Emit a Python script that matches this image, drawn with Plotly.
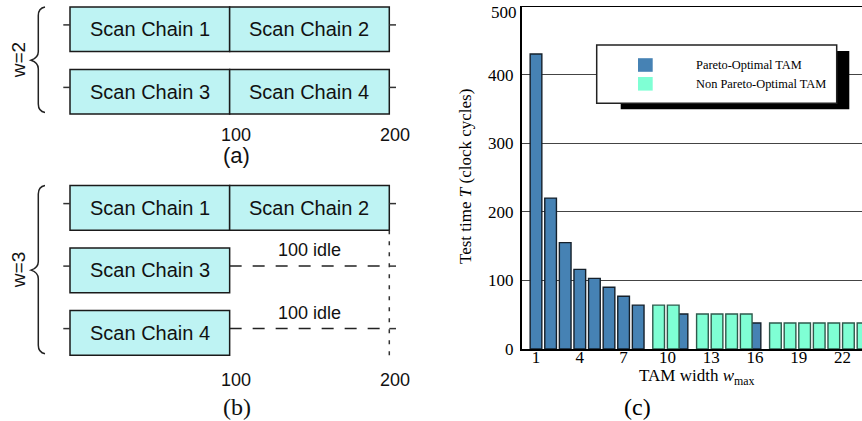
import plotly.graph_objects as go

# ---------------------------------------------------------------------------
# Data
# ---------------------------------------------------------------------------
# Scan chains of the example core and their lengths (clock cycles)
chain_names = ["Scan Chain 1", "Scan Chain 2", "Scan Chain 3", "Scan Chain 4"]
chain_lengths = [100, 100, 100, 100]
# TAM wire each scan chain is assigned to, for w=2 and w=3
wires_w2 = [0, 0, 1, 1]
wires_w3 = [0, 0, 1, 2]
schedule_ticks = [100, 200]

# Test time versus TAM width
pareto_width = [1, 2, 3, 4, 5, 6, 7, 8, 11, 16]
pareto_time = [430, 220, 155, 116, 103, 90, 77, 64, 51, 38]
nonpareto_width = [9, 10, 12, 13, 14, 15, 17, 18, 19, 20, 21, 22, 23]
nonpareto_time = [64, 64, 51, 51, 51, 51, 38, 38, 38, 38, 38, 38, 38]
width_ticks = [1, 4, 7, 10, 13, 16, 19, 22]
time_ticks = [0, 100, 200, 300, 400, 500]

# ---------------------------------------------------------------------------
# Layout constants
# ---------------------------------------------------------------------------
W, H = 862, 421
SANS = "Liberation Sans"
SERIF = "Liberation Serif"
BLUE = "#4682B4"
GREEN = "#7FFFD4"
CYAN = "#BEF3F3"
INK = "#1a1a1a"

# left schedule panel: cycle 0 sits at x=70 px, 1 cycle = 1.5965 px
PPC = 1.5965
X0 = 70.0
LEFT_W = 440.0
ROW_PITCH = 62.5
BOX_HALF = 22.3
TICK_UP = 4.3           # wire line sits a little above the box centre
STUB = 4.2              # length of wire stubs (cycles)


def px(v):
    return v / W


def py(v):
    return 1 - v / H


def cyc(xpx):
    return (xpx - X0) / PPC


fig = go.Figure()

# ---------------------------------------------------------------------------
# Bar chart (c)
# ---------------------------------------------------------------------------
fig.add_trace(go.Bar(
    x=pareto_width, y=pareto_time, width=0.8,
    marker=dict(color=BLUE, line=dict(color="#15202b", width=1.4)),
    name="Pareto-Optimal TAM", xaxis="x", yaxis="y",
))
fig.add_trace(go.Bar(
    x=nonpareto_width, y=nonpareto_time, width=0.8, offset=0,
    marker=dict(color=GREEN, line=dict(color="#2f5a4c", width=1.4)),
    name="Non Pareto-Optimal TAM", xaxis="x", yaxis="y",
))

shapes = []
annotations = []

# top frame line of the bar chart
shapes.append(dict(type="line", xref="x domain", yref="y", x0=0, x1=1,
                   y0=time_ticks[-1], y1=time_ticks[-1],
                   line=dict(color="black", width=2), layer="above"))
# the topmost tick label sits just inside the frame
annotations.append(dict(xref="paper", yref="y", x=px(518.5), y=time_ticks[-1], yshift=-6.5,
                        xanchor="right", yanchor="middle", showarrow=False,
                        text=str(time_ticks[-1]), font=dict(family=SERIF, size=17, color="black")))

# legend with drop shadow
lx0, lx1, ly0, ly1 = 596.7, 836.7, 45.0, 103.3
shapes.append(dict(type="rect", xref="paper", yref="paper",
                   x0=px(lx0 + 24), x1=px(lx1 + 12.6), y0=py(ly0 + 6), y1=py(ly1 + 6),
                   fillcolor="black", line=dict(width=0), layer="above"))
shapes.append(dict(type="rect", xref="paper", yref="paper",
                   x0=px(lx0), x1=px(lx1), y0=py(ly0), y1=py(ly1),
                   fillcolor="white", line=dict(color="#222", width=1.5), layer="above"))
for (label, colr, yc) in [("Pareto-Optimal TAM", BLUE, 65.0),
                          ("Non Pareto-Optimal TAM", GREEN, 83.8)]:
    shapes.append(dict(type="rect", xref="paper", yref="paper",
                       x0=px(638), x1=px(652.7), y0=py(yc - 6.8), y1=py(yc + 6.8),
                       fillcolor=colr, line=dict(width=0), layer="above"))
    annotations.append(dict(xref="paper", yref="paper", x=px(694), y=py(yc),
                            xanchor="left", yanchor="middle", showarrow=False,
                            text=label, font=dict(family=SERIF, size=12.4, color="black")))

# axis titles and panel label
annotations.append(dict(xref="paper", yref="paper", x=px(465), y=py(176),
                        textangle=-90, showarrow=False, xanchor="center", yanchor="middle",
                        text="Test time <i>T</i> (clock cycles)",
                        font=dict(family=SERIF, size=17, color="black")))
annotations.append(dict(xref="paper", yref="paper", x=px(697), y=py(377),
                        showarrow=False, xanchor="center", yanchor="middle",
                        text="TAM width <i>w</i><sub>max</sub>",
                        font=dict(family=SERIF, size=17, color="black")))
annotations.append(dict(xref="paper", yref="paper", x=px(637), y=py(407),
                        showarrow=False, xanchor="center", yanchor="middle",
                        text="(c)", font=dict(family=SERIF, size=24, color="black")))

# ---------------------------------------------------------------------------
# Scan chain schedules (a) and (b)
# ---------------------------------------------------------------------------


def schedule(wires):
    ends = {}
    starts = []
    for length, w in zip(chain_lengths, wires):
        s = ends.get(w, 0)
        starts.append(s)
        ends[w] = s + length
    return starts, ends


def brace(y_top, y_bot, y_tip):
    xe, xv, xt = cyc(45.0), cyc(38.3), cyc(31.0)
    return (f"M {xe},{y_top} Q {xv},{y_top + 1.3} {xv},{y_top + 8.5} "
            f"L {xv},{y_tip - 8.5} Q {xv},{y_tip - 2.5} {xt},{y_tip} "
            f"Q {xv},{y_tip + 2.5} {xv},{y_tip + 8.5} "
            f"L {xv},{y_bot - 8.5} Q {xv},{y_bot - 1.3} {xe},{y_bot}")


panels = [
    dict(wires=wires_w2, top=29.2, label="w=2", tick_y=135, cap="(a)", cap_y=155,
         cap_font=SANS, cap_size=22),
    dict(wires=wires_w3, top=207.9, label="w=3", tick_y=380, cap="(b)", cap_y=407,
         cap_font=SERIF, cap_size=24),
]

for p in panels:
    starts, ends = schedule(p["wires"])
    makespan = max(ends.values())
    nw = len(ends)
    centres = [p["top"] + i * ROW_PITCH for i in range(nw)]

    # chain boxes
    for name, s, length, w in zip(chain_names, starts, chain_lengths, p["wires"]):
        yc = centres[w]
        shapes.append(dict(type="rect", xref="x2", yref="y2", x0=s, x1=s + length,
                           y0=yc - BOX_HALF, y1=yc + BOX_HALF, fillcolor=CYAN,
                           line=dict(color=INK, width=1.5)))
        annotations.append(dict(xref="x2", yref="y2", x=s + length / 2, y=yc,
                                showarrow=False, xanchor="center", yanchor="middle",
                                text=name, font=dict(family=SANS, size=20, color="#111")))

    # wire stubs, idle stretches
    for w in range(nw):
        yl = centres[w] - TICK_UP
        shapes.append(dict(type="line", xref="x2", yref="y2", x0=-STUB, x1=0,
                           y0=yl, y1=yl, line=dict(color="#333", width=1.5)))
        shapes.append(dict(type="line", xref="x2", yref="y2", x0=makespan,
                           x1=makespan + STUB, y0=yl, y1=yl, line=dict(color="#333", width=1.5)))
        idle = makespan - ends[w]
        if idle > 0:
            shapes.append(dict(type="line", xref="x2", yref="y2", x0=ends[w],
                               x1=makespan, y0=yl, y1=yl,
                               line=dict(color="#222", width=1.5, dash="12px,11px")))
            annotations.append(dict(xref="x2", yref="y2", x=(ends[w] + makespan) / 2 + 0.3,
                                    y=yl - 16, showarrow=False, xanchor="center",
                                    yanchor="middle", text=f"{idle} idle",
                                    font=dict(family=SANS, size=18, color="#111")))
    if any(makespan - e > 0 for e in ends.values()):
        shapes.append(dict(type="line", xref="x2", yref="y2", x0=makespan, x1=makespan,
                           y0=centres[0] + BOX_HALF, y1=centres[-1] + BOX_HALF,
                           line=dict(color="#333", width=1.5, dash="4px,7px")))

    # brace and TAM width label
    y_top = centres[0] - BOX_HALF
    y_bot = centres[-1] + BOX_HALF - 1.5
    y_tip = (y_top + y_bot) / 2 + 0.5
    shapes.append(dict(type="path", xref="x2", yref="y2", path=brace(y_top, y_bot, y_tip),
                       line=dict(color="#222", width=1.5)))
    annotations.append(dict(xref="x2", yref="y2", x=cyc(18), y=y_tip, textangle=-90,
                            showarrow=False, xanchor="center", yanchor="middle",
                            text=p["label"], font=dict(family=SANS, size=19, color="#111")))

    # cycle labels and caption
    for t in schedule_ticks:
        annotations.append(dict(xref="x2", yref="y2", x=t, y=p["tick_y"], xshift=6,
                                showarrow=False, xanchor="center", yanchor="middle",
                                text=str(t), font=dict(family=SANS, size=18, color="#111")))
    annotations.append(dict(xref="x2", yref="y2", x=schedule_ticks[0], y=p["cap_y"],
                            xshift=7, showarrow=False, xanchor="center", yanchor="middle",
                            text=p["cap"], font=dict(family=p["cap_font"], size=p["cap_size"],
                                                     color="#111")))

# ---------------------------------------------------------------------------
# Figure layout
# ---------------------------------------------------------------------------
fig.update_layout(
    width=W, height=H,
    margin=dict(l=0, r=0, t=0, b=0, autoexpand=False),
    paper_bgcolor="white", plot_bgcolor="white",
    font=dict(family=SERIF, color="black"),
    showlegend=False, barmode="overlay",
    xaxis=dict(domain=[px(522), 1], range=[0.041, 23.33], tickvals=width_ticks,
               showgrid=False, zeroline=False, showline=True, linecolor="black",
               linewidth=2, ticks="", ticklabelstandoff=-8, automargin=False,
               tickfont=dict(family=SERIF, size=17, color="black"), anchor="y"),
    yaxis=dict(domain=[py(349), py(6)], range=[0, 500], tickvals=time_ticks[:-1],
               showgrid=True, gridcolor="#444", gridwidth=1, zeroline=False,
               showline=True, linecolor="black", linewidth=2, ticks="",
               ticklabelstandoff=3, automargin=False,
               tickfont=dict(family=SERIF, size=17, color="black"), anchor="x"),
    xaxis2=dict(domain=[0, px(LEFT_W)], range=[cyc(0), cyc(LEFT_W)], visible=False,
                anchor="y2", automargin=False),
    yaxis2=dict(domain=[0, 1], range=[H, 0], visible=False, anchor="x2", automargin=False),
    shapes=shapes,
    annotations=annotations,
)

fig.write_html("out.html")
